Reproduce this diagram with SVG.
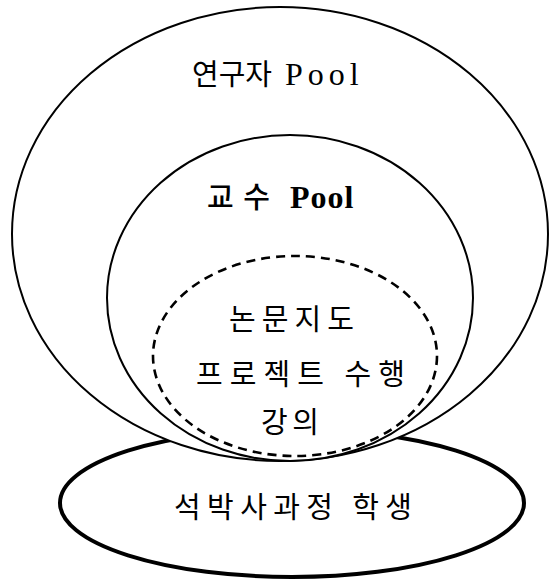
<svg xmlns="http://www.w3.org/2000/svg" width="549" height="581" viewBox="0 0 549 581">
<style>
.bg{fill:#fff}
.shape{fill:#fff;stroke:#000;stroke-width:2}
.thick{fill:#fff;stroke:#000;stroke-width:4}
.dash{fill:none;stroke:#000;stroke-width:2.6;stroke-dasharray:9 6}
.t{font-family:"Noto Sans CJK KR","Liberation Serif",sans-serif;font-size:29px;fill:#000}
.lat{font-family:"Liberation Serif","Noto Sans CJK KR",serif;font-size:32px;fill:#000}
</style>
<rect class="bg" x="0" y="0" width="549" height="581"/>
<g id="students">
<ellipse class="thick" cx="292" cy="503" rx="232" ry="74"/>
<text class="t" x="174" y="518" textLength="238">석박사과정 학생</text>
</g>
<g id="researcher-pool">
<ellipse class="shape" cx="280" cy="234" rx="268" ry="227"/>
<text class="t" x="192" y="85" font-size="27" textLength="80">연구자</text>
<text class="lat" x="285" y="85" letter-spacing="5">Pool</text>
</g>
<g id="professor-pool">
<ellipse class="shape" cx="290" cy="298" rx="183" ry="163"/>
<text class="t" x="207" y="208" textLength="63" font-weight="500">교수</text>
<text class="lat" x="290" y="208" letter-spacing="1" font-weight="bold">Pool</text>
</g>
<g id="activities">
<ellipse class="dash" cx="295" cy="356" rx="142" ry="100"/>
<text class="t" x="229" y="330" textLength="125">논문지도</text>
<text class="t" x="196" y="385" textLength="209">프로젝트 수행</text>
<text class="t" x="261" y="433" textLength="58">강의</text>
</g>
<g id="connectors"/>
</svg>
